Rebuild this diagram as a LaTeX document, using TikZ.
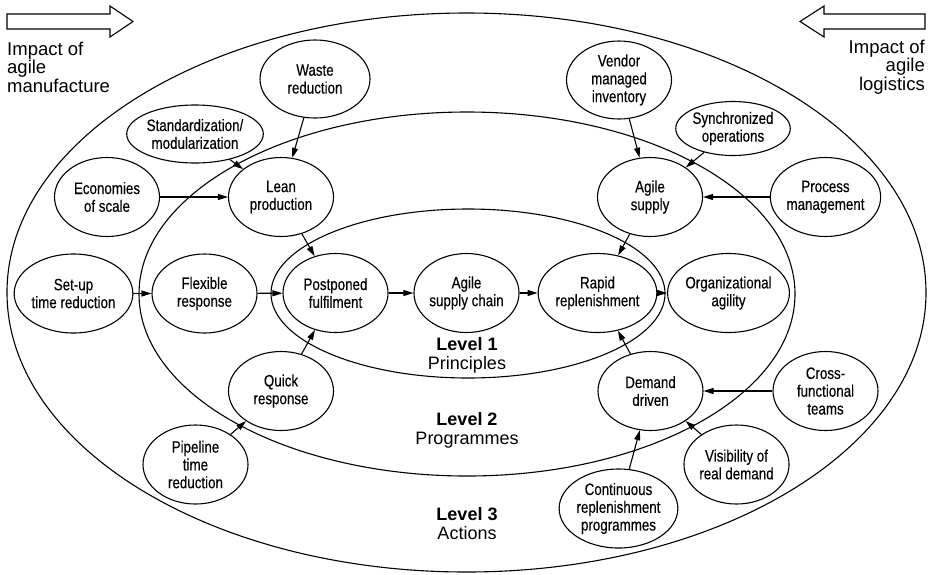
\documentclass[tikz,border=0pt]{standalone}
\usepackage{fontspec}
\setmainfont{Liberation Sans}
\newfontfamily\condfont[FakeStretch=0.81,FakeBold=0.3]{Liberation Sans}
\usetikzlibrary{shapes.geometric,arrows.meta}

\begin{document}
\begin{tikzpicture}[x=1pt,y=-1pt,
  item/.style={ellipse, draw, line width=1.1pt, fill=white,
    minimum width=105pt, minimum height=79pt, inner sep=0pt, align=center,
    font=\condfont\fontsize{16.5}{17.8}\selectfont},
  link/.style={line width=1.1pt, -{Triangle[length=10pt,width=6pt]}},
  ring/.style={line width=1.1pt},
  levellabel/.style={align=center, inner sep=0pt, font=\fontsize{18}{19}\selectfont},
  impact/.style={inner sep=0pt, font=\fontsize{18.5}{18.5}\selectfont},
  blockarrow/.style={line width=1.1pt, line join=miter}]

\useasboundingbox (0,0) rectangle (933,574);

% the three levels
\draw[ring] (466.5,292.5) ellipse [x radius=459.5pt, y radius=279.5pt];
\draw[ring] (467,294) ellipse [x radius=328pt, y radius=182pt];
\draw[ring] (468,293.5) ellipse [x radius=197pt, y radius=84.5pt];

% direction arrows and their captions
\draw[blockarrow] (7,14) -- (110,14) -- (110,6) -- (133,21.5) -- (110,37)
  -- (110,29) -- (7,29) -- cycle;
\draw[blockarrow] (925,14) -- (824,14) -- (824,6) -- (800,21.5) -- (824,37)
  -- (824,29) -- (925,29) -- cycle;
\node[impact, align=left, anchor=north west] (mfg) at (7,41.5)
  {Impact of\\agile\\manufacture};
\node[impact, align=right, anchor=north east] (logi) at (925,39.5)
  {Impact of\\agile\\logistics};

% level captions
\node[levellabel] (l1) at (467,355) {\textbf{Level 1}\\Principles};
\node[levellabel] (l2) at (467,430) {\textbf{Level 2}\\Programmes};
\node[levellabel] (l3) at (467,524) {\textbf{Level 3}\\Actions};

% level 1
\node[item] (post)  at (335.5,293) {Postponed\\fulfilment};
\node[item] (asc)   at (466.5,293) {Agile\\supply chain};
\node[item] (rapid) at (597.5,293) {Rapid\\replenishment};

% level 2
\node[item] (lean)  at (281,197)   {Lean\\production};
\node[item] (flex)  at (204.5,293.5) {Flexible\\response};
\node[item] (quick) at (281,391)   {Quick\\response};
\node[item] (asup)  at (650,197)   {Agile\\supply};
\node[item] (org)   at (728.5,293) {Organizational\\agility};
\node[item] (dem)   at (650.5,391) {Demand\\driven};

% level 3
\node[item, minimum width=110pt, minimum height=78pt] (waste) at (315,79) {Waste\\reduction};
\node[item, minimum width=106pt, minimum height=58pt] (std) at (195,134) {Standardization/\\modularization};
\node[item] (econ)  at (107,197)   {Economies\\of scale};
\node[item] (setup) at (73.5,293.5) {Set-up\\time reduction};
\node[item] (pipe)  at (195.5,464.5) {Pipeline\\time\\reduction};
\node[item, minimum width=105pt, minimum height=78pt] (vend) at (619,80) {Vendor\\managed\\inventory};
\node[item, minimum width=96pt, minimum height=54pt] (sync) at (733,128.5) {Synchronized\\operations};
\node[item] (proc)  at (825.5,197) {Process\\management};
\node[item] (cross) at (825.5,391) {Cross-\\functional\\teams};
\node[item] (vis)   at (736.5,464.5) {Visibility of\\real demand};
\node[item] (cont)  at (618.5,508.5) {Continuous\\replenishment\\programmes};

% connectors
\draw[link] (waste) -- (lean);
\draw[link] (std) -- (lean);
\draw[link] (econ) -- (lean);
\draw[link] (lean) -- (post);
\draw[link] (setup) -- (flex);
\draw[link] (flex) -- (post);
\draw[link] (post) -- (asc);
\draw[link] (asc) -- (rapid);
\draw[link] (rapid) -- (org);
\draw[link] (quick) -- (post);
\draw[link] (pipe) -- (quick);
\draw[link] (vend) -- (asup);
\draw[link] (sync) -- (asup);
\draw[link] (proc) -- (asup);
\draw[link] (asup) -- (rapid);
\draw[link] (dem) -- (rapid);
\draw[link] (cross) -- (dem);
\draw[link] (vis) -- (dem);
\draw[link] (cont) -- (dem);

\end{tikzpicture}
\end{document}
